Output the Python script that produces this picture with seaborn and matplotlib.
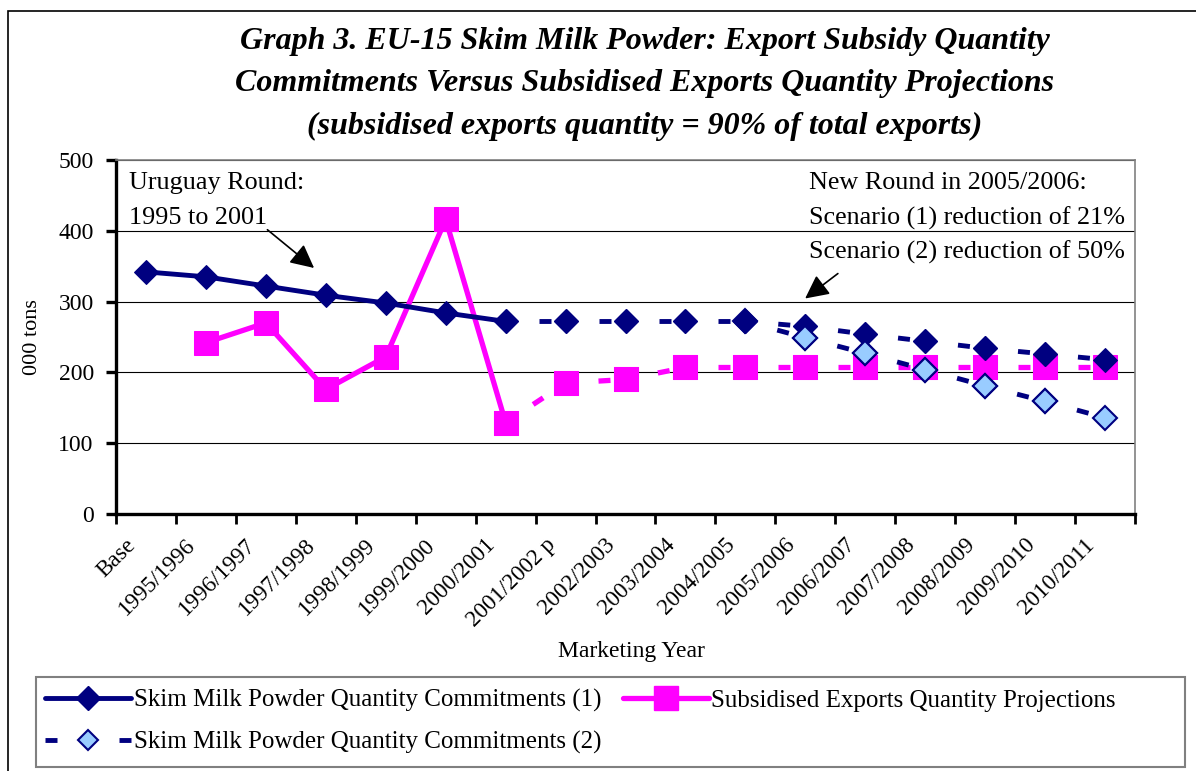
import numpy as np
import pandas as pd
import matplotlib
matplotlib.use("Agg")
import matplotlib.pyplot as plt
from matplotlib.patches import Rectangle
from matplotlib.lines import Line2D
from matplotlib.transforms import ScaledTranslation
import seaborn as sns

sns.set_theme(style="white")
plt.rcParams['font.family'] = ['Liberation Serif', 'DejaVu Serif']
plt.rcParams.update({"text.color": "black", "axes.labelcolor": "black",
                     "xtick.color": "black", "ytick.color": "black"})

# Data (000 tons)
years = ["Base", "1995/1996", "1996/1997", "1997/1998", "1998/1999", "1999/2000",
         "2000/2001", "2001/2002 p", "2002/2003", "2003/2004", "2004/2005",
         "2005/2006", "2006/2007", "2007/2008", "2008/2009", "2009/2010", "2010/2011"]
commit_1 = [342, 335, 322, 309, 298, 284, 272, 272, 272, 272, 272,
            265, 254, 244, 234, 226, 218]
commit_2 = [np.nan] * 10 + [272, 249, 227, 204, 181, 159, 136]
exports = [np.nan, 242, 270, 176, 222, 416, 129, 185, 190, 207, 207,
           207, 207, 207, 207, 207, 207]
last_actual = 6  # 2000/2001: solid lines up to here, dashed afterwards

NAVY = "#000080"
MAGENTA = "#FF00FF"
LIGHT = "#99CCFF"
LW = 3.5
LW_M = 3.8
MS_D = 12
MS_S = 17

df = pd.DataFrame({"pos": np.arange(len(years)), "year": years,
                   "c1": commit_1, "c2": commit_2, "exp": exports})
hist = df[df.pos <= last_actual]


def px(v, lw=LW):
    # pixels -> dash units (points scaled by line width)
    return v * 0.72 / lw


# one short dash just before the next marker on each projected segment
def seg_dash(lw):
    return (px(212 - 33, lw), (px(12, lw), px(200, lw)))


fig = plt.figure(figsize=(11.96, 7.71), dpi=100)
ax = fig.add_axes([116 / 1196, 1 - 514 / 771, (1135 - 116) / 1196, (514 - 160) / 771])

# solid historical parts
sns.lineplot(data=hist, x="pos", y="c1", ax=ax, color=NAVY, lw=LW, marker="D", ms=MS_D,
             mec=NAVY, mfc=NAVY, zorder=4)
sns.lineplot(data=hist.dropna(subset=["exp"]), x="pos", y="exp", ax=ax, color=MAGENTA, lw=LW_M,
             marker="s", ms=MS_S, mec=MAGENTA, mfc=MAGENTA, zorder=3)

# dashed projection parts, segment by segment
for i in range(last_actual, len(years) - 1):
    seg = df.iloc[i:i + 2]
    sns.lineplot(data=seg, x="pos", y="c1", ax=ax, color=NAVY, lw=LW, marker="D", ms=MS_D,
                 mec=NAVY, mfc=NAVY, linestyle=seg_dash(LW), zorder=4)
    sns.lineplot(data=seg, x="pos", y="exp", ax=ax, color=MAGENTA, lw=LW_M, marker="s",
                 ms=MS_S, mec=MAGENTA, mfc=MAGENTA, linestyle=seg_dash(LW_M), zorder=3)
    if seg["c2"].notna().all():
        sns.lineplot(data=seg, x="pos", y="c2", ax=ax, color=NAVY, lw=LW,
                     linestyle=seg_dash(LW), marker="D", ms=MS_D, mec=NAVY, mfc=LIGHT,
                     mew=1.5, zorder=5)
# the first commitment (2) point coincides with commitment (1)
sns.lineplot(data=df.iloc[[10]], x="pos", y="c1", ax=ax, color=NAVY, marker="D", ms=MS_D,
             mec=NAVY, mfc=NAVY, zorder=6)

ax.set_xlim(-0.5, len(years) - 0.5)
ax.set_ylim(0, 500)
ax.set_yticks(np.arange(0, 501, 100))
ax.yaxis.grid(True, color="black", lw=0.8)
ax.set_axisbelow(True)

ax.set_xticks(np.arange(-0.5, len(years)), labels=[])
ax.set_xticks(np.arange(len(years)), labels=years, minor=True)
ax.tick_params(axis="x", which="major", direction="out", length=7, width=2, bottom=True)
ax.tick_params(axis="x", which="minor", length=0, pad=6, labelsize=16.7)
ax.tick_params(axis="y", direction="out", length=7, width=2.4, left=True,
               labelsize=17, pad=9)
shift = ScaledTranslation(-21 / 100, -12 / 100, fig.dpi_scale_trans)
for lab in ax.get_xticklabels(minor=True):
    lab.set_rotation(45)
    lab.set_ha("right")
    lab.set_rotation_mode("anchor")
    lab.set_transform(lab.get_transform() + shift)

for side in ["left", "bottom"]:
    ax.spines[side].set_color("black")
    ax.spines[side].set_linewidth(2.4)
for side in ["top", "right"]:
    ax.spines[side].set_color("#808080")
    ax.spines[side].set_linewidth(1.2)

ax.set_xlabel("Marketing Year", fontsize=17)
ax.set_ylabel("000 tons", fontsize=16)
ax.xaxis.set_label_coords(0.506, -0.36)
ax.yaxis.set_label_coords(-0.073, 0.5)

# Annotations
note_kw = dict(fontsize=18.8, va="center", ha="left")
ax.text(-0.28, 467, "Uruguay Round:", **note_kw)
ax.text(-0.28, 418, "1995 to 2001", **note_kw)
ax.annotate("", xy=(2.84, 345), xytext=(1.99, 404),
            arrowprops=dict(arrowstyle="-|>", color="black", lw=1.2, mutation_scale=36))
ax.text(11.06, 467, "New Round in 2005/2006:", **note_kw)
ax.text(11.06, 418, "Scenario (1) reduction of 21%", **note_kw)
ax.text(11.06, 369, "Scenario (2) reduction of 50%", **note_kw)
ax.annotate("", xy=(10.96, 302), xytext=(11.58, 342),
            arrowprops=dict(arrowstyle="-|>", color="black", lw=1.2, mutation_scale=36))

# Title
title_lines = ["Graph 3. EU-15 Skim Milk Powder: Export Subsidy Quantity",
               "Commitments Versus Subsidised Exports Quantity Projections",
               "(subsidised exports quantity = 90% of total exports)"]
for i, line in enumerate(title_lines):
    fig.text(645 / 1196, 1 - (42 + 42 * i) / 771, line, ha="center", va="center",
             fontsize=23, fontweight="bold", fontstyle="italic")

# Legend
h1 = Line2D([], [], color=NAVY, lw=LW, marker="D", ms=MS_D, mec=NAVY, mfc=NAVY)
h2 = Line2D([], [], color=NAVY, lw=LW, marker="D", ms=10, mec=NAVY, mfc=LIGHT, mew=1.5,
            linestyle=(0, (px(12), px(62))))
h3 = Line2D([], [], color=MAGENTA, lw=LW_M, marker="s", ms=MS_S, mec=MAGENTA, mfc=MAGENTA)
fig.legend([h1, h2, h3],
           ["Skim Milk Powder Quantity Commitments (1)",
            "Skim Milk Powder Quantity Commitments (2)",
            "Subsidised Exports Quantity Projections"],
           ncol=2, loc="upper left", bbox_to_anchor=(40 / 1196, 1 - 684 / 771), frameon=False,
           fontsize=18, handlelength=3.45, handletextpad=0.1, columnspacing=0.85,
           labelspacing=0.75, borderpad=0.2, borderaxespad=0)
fig.add_artist(Rectangle((36 / 1196, 1 - 767 / 771), (1185 - 36) / 1196, 90 / 771,
                         transform=fig.transFigure, fill=False, ec="#808080", lw=1.5))
# Outer frame
fig.add_artist(Rectangle((8 / 1196, -0.1), 1.2, 1.1 - 11 / 771,
                         transform=fig.transFigure, fill=False, ec="black", lw=1.2))

fig.savefig("out.png", dpi=100)
